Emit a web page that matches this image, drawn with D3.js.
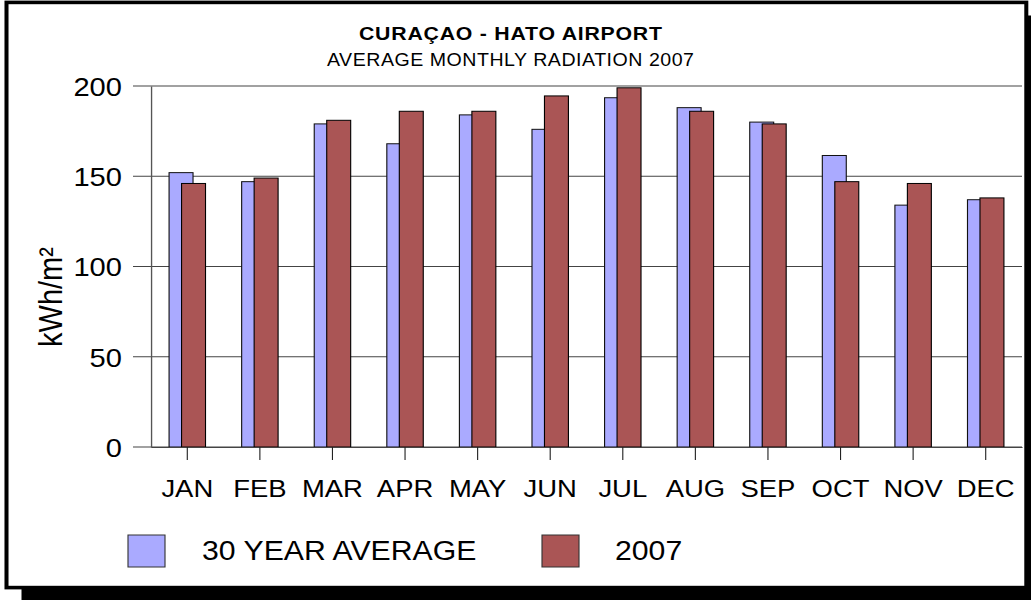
<!DOCTYPE html>
<html>
<head>
<meta charset="utf-8">
<script src="https://cdn.jsdelivr.net/npm/d3@7"></script>
<style>
  body { margin: 0; background: #fff; }
  svg { display: block; }
  text { font-family: Arial, "Liberation Sans", sans-serif; fill: #000; }
</style>
</head>
<body>
<div id="chart"></div>
<script>
// data
const months = ["JAN","FEB","MAR","APR","MAY","JUN","JUL","AUG","SEP","OCT","NOV","DEC"];
const avg30 = [152, 147, 179, 168, 184, 176, 193.5, 188, 180, 161.5, 134, 137];
const y2007 = [146, 149, 181, 186, 186, 194.5, 199, 186, 179, 147, 146, 138];
const yTicks = [0, 50, 100, 150, 200];
const seriesNames = ["30 YEAR AVERAGE", "2007"];
const seriesColors = ["#aaaaff", "#aa5555"];

// the original picture is a bit stretched sideways, so draw in a narrower box
const SX = 1.12;
const W = 1031, H = 600;
const px = v => v / SX;

const svg = d3.select("#chart").append("svg")
    .attr("width", W).attr("height", H)
    .attr("viewBox", "0 0 " + px(W) + " " + H)
    .attr("preserveAspectRatio", "none");

// frame with drop shadow
svg.append("rect")
    .attr("x", px(21.5)).attr("y", 15.5)
    .attr("width", px(W)).attr("height", H)
    .attr("fill", "#000");
svg.append("rect")
    .attr("x", px(6.5)).attr("y", 2.4)
    .attr("width", px(1026.3 - 6.5)).attr("height", 587.6 - 2.4)
    .attr("fill", "#fff").attr("stroke", "#000").attr("stroke-width", 3.6);

// titles
svg.append("text")
    .attr("x", px(510.5)).attr("y", 40)
    .attr("text-anchor", "middle")
    .attr("font-size", 19).attr("font-weight", "bold")
    .attr("textLength", px(303)).attr("lengthAdjust", "spacing")
    .text("CURAÇAO - HATO AIRPORT");
svg.append("text")
    .attr("x", px(510.5)).attr("y", 66)
    .attr("text-anchor", "middle")
    .attr("font-size", 17.5)
    .attr("textLength", px(367)).attr("lengthAdjust", "spacing")
    .text("AVERAGE MONTHLY RADIATION 2007");

// scales
const plotL = px(151), plotR = px(1022), plotT = 86, plotB = 447;
const x = d3.scaleBand().domain(months).range([plotL, plotR]).padding(0);
const y = d3.scaleLinear().domain([0, 200]).range([plotB, plotT]);

// gridlines
svg.append("g")
  .selectAll("line")
  .data(yTicks)
  .join("line")
    .attr("x1", px(133)).attr("x2", plotR)
    .attr("y1", d => y(d)).attr("y2", d => y(d))
    .attr("stroke", "#444").attr("stroke-width", 1.2);

// y axis
const yAxis = svg.append("g")
    .attr("transform", "translate(" + plotL + ",0)")
    .call(d3.axisLeft(y).tickValues(yTicks).tickSize(0).tickSizeOuter(0).tickPadding(px(29)));
yAxis.select(".domain").attr("stroke", "#555").attr("stroke-width", 1.2);
yAxis.selectAll("text").attr("font-size", 26).attr("dy", "0.36em")
    .style("font-family", "Arial, 'Liberation Sans', sans-serif").attr("fill", "#000");

svg.append("text")
    .attr("transform", "translate(" + px(62) + ",297) rotate(-90)")
    .attr("text-anchor", "middle")
    .attr("font-size", 29)
    .text("kWh/m²");

// bars: the two series overlap by half a bar
const bw = x.bandwidth() * 0.33;
const shift = x.bandwidth() * 0.086;
const cx = d => x(d) + x.bandwidth() / 2;

svg.append("g")
  .selectAll("rect")
  .data(months)
  .join("rect")
    .attr("x", (d) => cx(d) - shift - bw / 2)
    .attr("y", (d, i) => y(avg30[i]))
    .attr("width", bw)
    .attr("height", (d, i) => plotB - y(avg30[i]))
    .attr("fill", seriesColors[0]).attr("stroke", "#111").attr("stroke-width", 1);

svg.append("g")
  .selectAll("rect")
  .data(months)
  .join("rect")
    .attr("x", (d) => cx(d) + shift - bw / 2)
    .attr("y", (d, i) => y(y2007[i]))
    .attr("width", bw)
    .attr("height", (d, i) => plotB - y(y2007[i]))
    .attr("fill", seriesColors[1]).attr("stroke", "#000").attr("stroke-width", 1);

// x axis
const xAxis = svg.append("g")
    .attr("transform", "translate(0," + plotB + ")")
    .call(d3.axisBottom(x).tickSize(13).tickSizeOuter(0));
xAxis.select(".domain").attr("stroke", "#444").attr("stroke-width", 1.2);
xAxis.selectAll(".tick line").attr("stroke", "#222");
xAxis.selectAll("text")
    .attr("y", 50).attr("dy", 0)
    .attr("font-size", 24.5)
    .style("font-family", "Arial, 'Liberation Sans', sans-serif").attr("fill", "#000");

// legend
const legendX = [128, 542];
const legendTextX = [202, 615];
const legend = svg.append("g")
  .selectAll("g")
  .data(seriesNames)
  .join("g");
legend.append("rect")
    .attr("x", (d, i) => px(legendX[i])).attr("y", 535)
    .attr("width", px(37)).attr("height", 32)
    .attr("fill", (d, i) => seriesColors[i])
    .attr("stroke", "#333").attr("stroke-width", 1);
legend.append("text")
    .attr("x", (d, i) => px(legendTextX[i])).attr("y", 560)
    .attr("font-size", 27)
    .text(d => d);
</script>
</body>
</html>
